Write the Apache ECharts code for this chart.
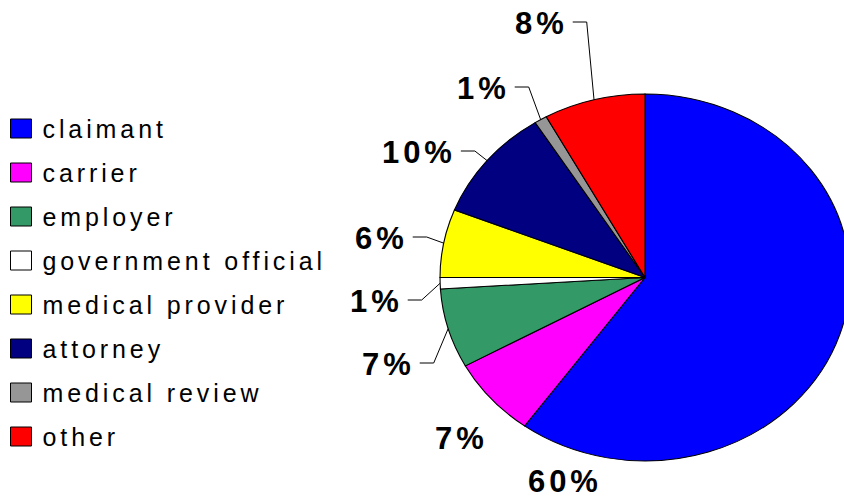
<!DOCTYPE html>
<html lang="en">
  <head>
    <meta charset="UTF-8" />
    <title>ECharts</title>
    <script src="https://cdn.jsdelivr.net/npm/echarts@6/dist/echarts.min.js"></script>
    <style>
      html, body { margin: 0; padding: 0; background: #fff; }
      /* the original text is widely spaced */
      #main text { letter-spacing: 3.9px; }
    </style>
  </head>

  <body>
    <div id="main" style="width: 844px; height: 497px"></div>

    <script type="text/javascript">
      var categories = [
        "claimant",
        "carrier",
        "employer",
        "government official",
        "medical provider",
        "attorney",
        "medical review",
        "other",
      ];
      var shares = [60, 7, 7, 1, 6, 10, 1, 8];
      var colors = ["#0000ff", "#ff00ff", "#339966", "#ffffff", "#ffff00", "#000080", "#969696", "#ff0000"];

      // where each percentage text sits (left edge, vertical middle)
      var labelLeft = [528, 435, 362, 350, 355, 382, 457, 515];
      var labelMid = [481, 438, 364, 301, 238, 152, 88, 23];
      var hasLeader = [false, false, true, true, true, true, true, true];

      // the pie is an ellipse
      var cx = 645, cy = 277.5, ry = 183.5, rx = 205;
      var labelFont = 'bold 31px "Liberation Sans", Arial, sans-serif';
      var spacing = 3.9;

      var total = 0;
      for (var i = 0; i < shares.length; i++) total += shares[i];

      var measure = document.createElement("canvas").getContext("2d");
      function textWidth(s) {
        measure.font = labelFont;
        return measure.measureText(s).width + spacing * (s.length - 1);
      }

      function renderSlice(index) {
        return function (params, api) {
          var before = 0;
          for (var k = 0; k < index; k++) before += shares[k];
          var value = api.value(0);
          var a0 = -Math.PI / 2 + (before / total) * 2 * Math.PI;
          var a1 = a0 + (value / total) * 2 * Math.PI;
          var mid = (a0 + a1) / 2;
          var text = value + "%";

          var children = [
            {
              type: "sector",
              x: cx,
              y: cy,
              scaleX: rx / ry,
              shape: { cx: 0, cy: 0, r0: 0, r: ry, startAngle: a0, endAngle: a1, clockwise: true },
              style: { fill: colors[index], stroke: "#000", lineWidth: 1, strokeNoScale: true },
            },
            {
              type: "text",
              x: labelLeft[index],
              y: labelMid[index],
              style: {
                text: text,
                font: labelFont,
                lineHeight: 22,
                fill: "#000",
                align: "left",
                verticalAlign: "middle",
              },
            },
          ];

          if (hasLeader[index]) {
            var ex = cx + rx * Math.cos(mid);
            var ey = cy + ry * Math.sin(mid);
            var x0 = labelLeft[index] + textWidth(text) + 9;
            var ly = labelMid[index] - 1;
            children.push({
              type: "polyline",
              shape: { points: [[ex, ey], [x0 + 14, ly], [x0, ly]] },
              style: { stroke: "#000", lineWidth: 1, fill: null },
            });
          }
          return { type: "group", children: children };
        };
      }

      var series = [];
      for (var j = 0; j < categories.length; j++) {
        series.push({
          name: categories[j],
          type: "custom",
          coordinateSystem: "none",
          silent: true,
          itemStyle: { color: colors[j] },
          data: [[shares[j]]],
          renderItem: renderSlice(j),
        });
      }

      var myChart = echarts.init(document.getElementById("main"), null, { renderer: "svg" });

      var option = {
        animation: false,
        backgroundColor: "#fff",
        legend: {
          data: categories,
          orient: "vertical",
          left: 10,
          top: 116,
          padding: 0,
          icon: "rect",
          itemWidth: 21,
          itemHeight: 19,
          itemGap: 19,
          selectedMode: false,
          itemStyle: { borderColor: "#000", borderWidth: 1 },
          textStyle: {
            fontFamily: '"Liberation Sans", Arial, sans-serif',
            fontSize: 25,
            lineHeight: 24,
            color: "#000",
            padding: [0, 0, 0, 6],
          },
        },
        series: series,
      };

      myChart.setOption(option);
    </script>
  </body>
</html>
